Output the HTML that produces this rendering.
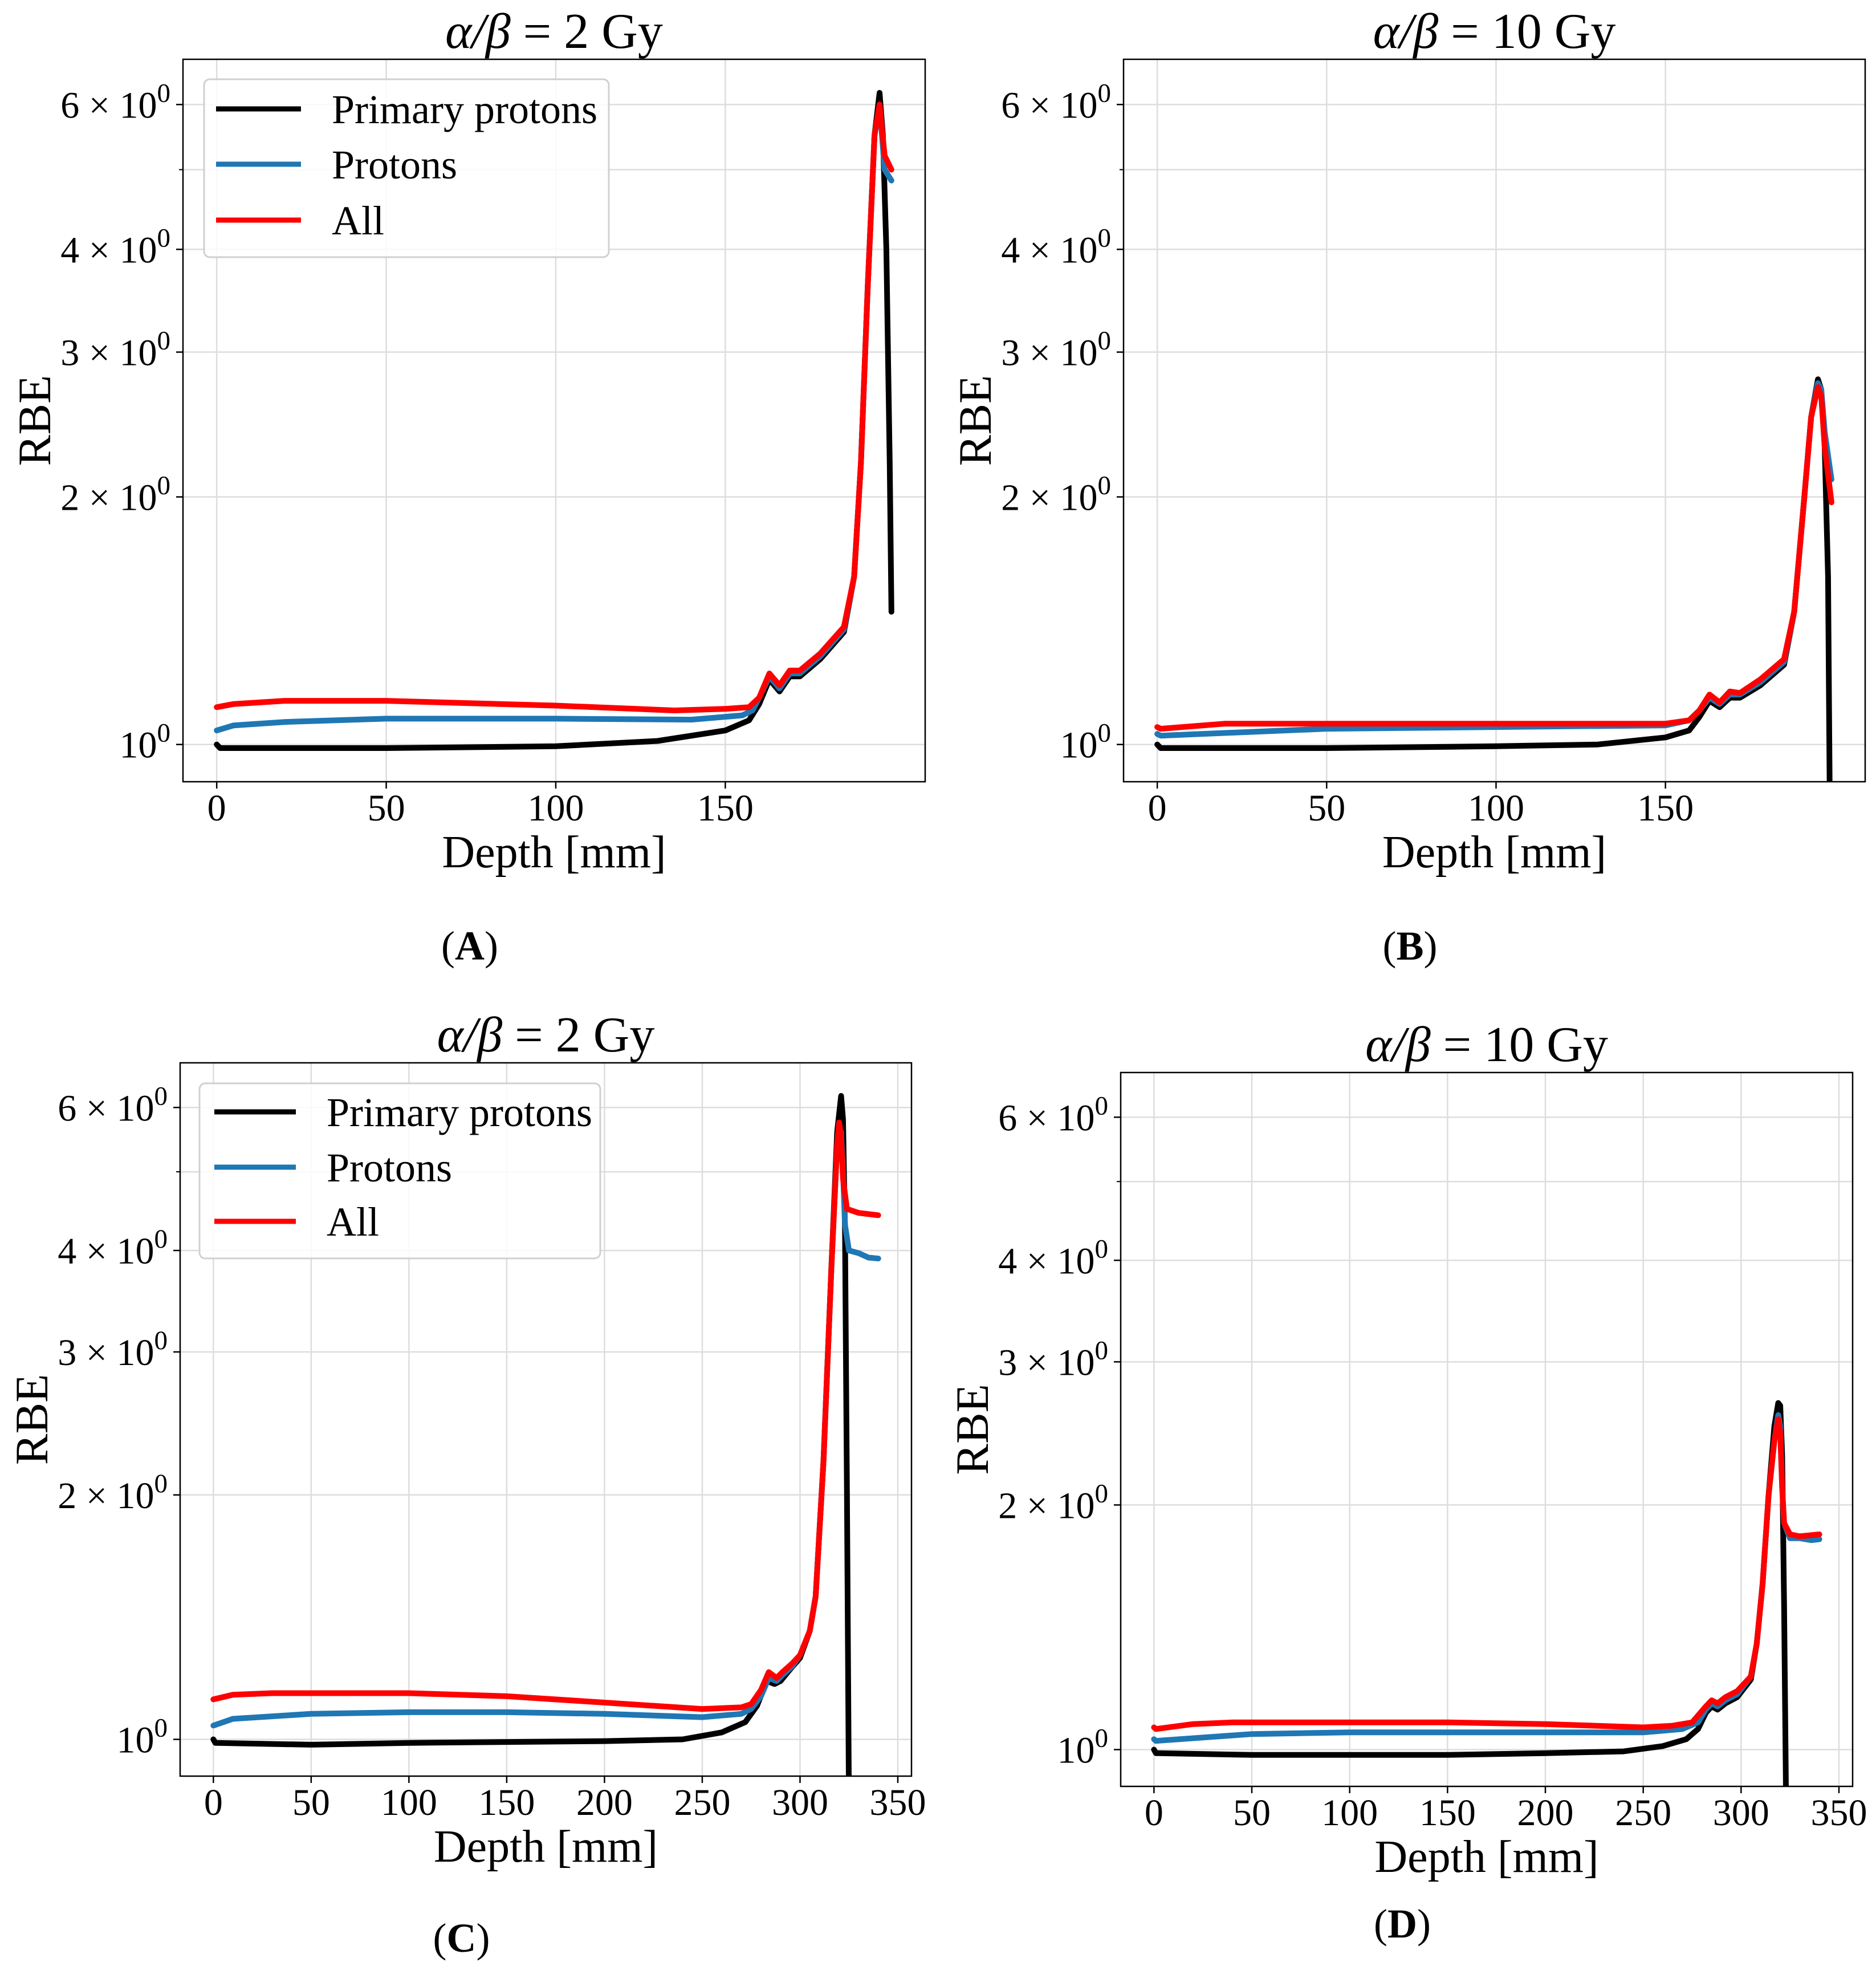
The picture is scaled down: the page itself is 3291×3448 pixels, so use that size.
<!DOCTYPE html>
<html><head><meta charset="utf-8">
<style>
html,body{margin:0;padding:0;background:#fff;}
svg{display:block;}
text{font-family:"Liberation Serif","DejaVu Serif",serif;fill:#000;}
</style></head>
<body>
<svg id="fig" width="3291" height="3448" viewBox="0 0 3291 3448" xmlns="http://www.w3.org/2000/svg"></svg>
<script>
// ---------- Panel A (alpha/beta = 2 Gy, 0-199 mm) ----------
const aPrimaryX = [0,1,50,100,130,150,157,160,163,166,169,172,178,185,188,190,192,194,195.5,196.5,197.5,198.5,199];
const aPrimaryY = [1.0,0.99,0.99,0.995,1.01,1.04,1.07,1.12,1.2,1.16,1.21,1.21,1.27,1.37,1.6,2.2,3.6,5.5,6.2,5.5,4.0,2.2,1.45];
const aProtonsX = [0,5,20,50,100,140,155,158,160,163,166,169,172,178,185,188,190,192,194,195.5,197,199];
const aProtonsY = [1.04,1.055,1.065,1.075,1.075,1.072,1.085,1.10,1.14,1.21,1.17,1.22,1.22,1.28,1.38,1.6,2.2,3.6,5.5,6.0,5.0,4.85];
const aAllX = [0,5,20,50,100,135,150,157,160,163,166,169,172,178,185,188,190,192,194,195.5,197,199];
const aAllY = [1.11,1.12,1.13,1.13,1.115,1.1,1.105,1.11,1.14,1.22,1.18,1.23,1.23,1.29,1.39,1.6,2.2,3.6,5.5,6.0,5.2,5.0];
// ---------- Panel B (alpha/beta = 10 Gy, 0-199 mm) ----------
const bPrimaryX = [0,1,50,100,130,150,157,160,163,166,169,172,178,185,188,191,193,195,196,197,198,198.5];
const bPrimaryY = [1.0,0.99,0.99,0.995,1.0,1.02,1.04,1.08,1.13,1.11,1.14,1.14,1.18,1.25,1.45,2.0,2.5,2.78,2.7,2.3,1.6,0.85];
const bProtonsX = [0,1,50,100,150,157,160,163,166,169,172,178,185,188,191,193,195,196,197,199];
const bProtonsY = [1.03,1.025,1.045,1.05,1.055,1.07,1.1,1.14,1.12,1.15,1.15,1.19,1.26,1.45,2.0,2.5,2.75,2.7,2.4,2.1];
const bAllX = [0,1,20,100,150,157,160,163,166,169,172,178,185,188,191,193,195,196,197,199];
const bAllY = [1.05,1.045,1.06,1.06,1.06,1.07,1.1,1.15,1.125,1.16,1.155,1.2,1.27,1.45,2.0,2.5,2.72,2.65,2.3,1.97];
// ---------- Panel C (alpha/beta = 2 Gy, 0-340 mm) ----------
const cPrimaryX = [0,1,50,100,200,240,260,272,278,283,287,290,295,300,305,308,312,316,319,321,322,323,324,325];
const cPrimaryY = [1.0,0.99,0.985,0.99,0.995,1.0,1.02,1.05,1.1,1.18,1.17,1.18,1.22,1.26,1.36,1.5,2.2,3.8,5.6,6.2,5.8,4.2,2.0,0.85];
const cProtonsX = [0,10,50,100,150,200,250,270,275,280,284,288,291,296,300,305,308,312,316,319,321,322,323,325,330,335,340];
const cProtonsY = [1.04,1.06,1.075,1.08,1.08,1.075,1.065,1.075,1.09,1.13,1.19,1.18,1.2,1.23,1.27,1.36,1.5,2.2,3.8,5.4,5.6,5.0,4.3,4.0,3.97,3.92,3.91];
const cAllX = [0,10,30,100,150,200,250,270,275,280,284,288,291,296,300,305,308,312,316,319,320,321,322,324,330,340];
const cAllY = [1.12,1.135,1.14,1.14,1.13,1.11,1.09,1.095,1.105,1.15,1.21,1.19,1.21,1.24,1.27,1.36,1.5,2.2,3.8,5.4,5.75,5.5,4.9,4.5,4.45,4.42];
// ---------- Panel D (alpha/beta = 10 Gy, 0-340 mm) ----------
const dPrimaryX = [0,1,50,100,150,200,240,260,272,278,282,285,288,292,298,305,308,311,314,317,319,320,321,322,323];
const dPrimaryY = [1.0,0.99,0.985,0.985,0.985,0.99,0.995,1.01,1.03,1.06,1.11,1.13,1.12,1.14,1.16,1.22,1.35,1.6,2.05,2.5,2.67,2.65,2.3,1.5,0.85];
const dProtonsX = [0,1,50,100,150,200,250,270,278,282,285,288,292,298,305,308,311,314,317,319,320,321,322,325,330,336,340];
const dProtonsY = [1.03,1.025,1.045,1.05,1.05,1.05,1.05,1.06,1.08,1.12,1.14,1.13,1.15,1.17,1.23,1.35,1.6,2.05,2.4,2.58,2.5,2.1,1.9,1.82,1.82,1.81,1.815];
const dAllX = [0,1,20,40,150,200,250,265,275,282,285,288,292,298,305,308,311,314,317,319,320,321,322,325,330,340];
const dAllY = [1.065,1.06,1.075,1.08,1.08,1.075,1.065,1.07,1.08,1.13,1.15,1.14,1.16,1.18,1.23,1.35,1.6,2.05,2.4,2.55,2.45,2.1,1.9,1.84,1.83,1.84];

const yTickVals = [1,2,3,4,6];
const yTickMant = ["","2","3","4","6"];
const yGridVals = [1,2,3,4,5,6];
const xTicksShort = [0,50,100,150];
const xTicksLong = [0,50,100,150,200,250,300,350];
const seriesNames = ["Primary protons","Protons","All"];
const seriesColors = ["#000000","#1f77b4","#ff0000"];

const NS = "http://www.w3.org/2000/svg";
const svg = document.getElementById("fig");
function mk(tag, attrs, parent){
  const e = document.createElementNS(NS, tag);
  for (const k in attrs) e.setAttribute(k, attrs[k]);
  (parent||svg).appendChild(e);
  return e;
}

const panels = [
  {id:"a", box:[321,104,1623,1371], xlim:[-9.95,208.95], xticks:xTicksShort, title:"2", label:"A", labelY:1683,
   series:[[aPrimaryX,aPrimaryY],[aProtonsX,aProtonsY],[aAllX,aAllY]], legend:{box:[358,139,1068,451], lx:[379,528], ly:[191,288,386], tx:582}},
  {id:"b", box:[1971,104,3272,1371], xlim:[-9.95,208.95], xticks:xTicksShort, title:"10", label:"B", labelY:1683,
   series:[[bPrimaryX,bPrimaryY],[bProtonsX,bProtonsY],[bAllX,bAllY]]},
  {id:"c", box:[316,1864,1599,3115], xlim:[-17,357], xticks:xTicksLong, title:"2", label:"C", labelY:3423,
   series:[[cPrimaryX,cPrimaryY],[cProtonsX,cProtonsY],[cAllX,cAllY]], legend:{box:[350,1900,1053,2207], lx:[376,519], ly:[1950,2047,2142], tx:573}},
  {id:"d", box:[1966,1881,3250,3133], xlim:[-17,357], xticks:xTicksLong, title:"10", label:"D", labelY:3398,
   series:[[dPrimaryX,dPrimaryY],[dProtonsX,dProtonsY],[dAllX,dAllY]]}
];
const ylim = [0.901, 6.81];

panels.forEach(p => {
  const [L,T,R,B] = p.box;
  const g = mk("g", {});
  
  
  const xs = v => L + (v - p.xlim[0])/(p.xlim[1]-p.xlim[0])*(R-L);
  const ys = v => B - (Math.log10(v) - Math.log10(ylim[0]))/(Math.log10(ylim[1]) - Math.log10(ylim[0]))*(B-T);
  const cid = "clip-" + p.id;
  const cp = mk("clipPath", {id:cid}, g);
  mk("rect", {x:L, y:T, width:R-L, height:B-T}, cp);
  yGridVals.forEach(v => {
    const ln = mk("line", {x1:L, x2:R, y1:ys(v), y2:ys(v), stroke:"#dddddd", "stroke-width":2.5}, g);
    
    
  });
  p.xticks.forEach(v => {
    const ln = mk("line", {x1:xs(v), x2:xs(v), y1:T, y2:B, stroke:"#dddddd", "stroke-width":2.5}, g);
    
    
  });
  p.series.forEach((s, i) => {
    const pts = s[0].map((x, k) => xs(x).toFixed(1) + "," + ys(s[1][k]).toFixed(1)).join(" ");
    const pl = mk("polyline", {points:pts, fill:"none", stroke:seriesColors[i], "stroke-width":10, "stroke-linejoin":"round", "stroke-linecap":"round", "clip-path":"url(#"+cid+")"}, g);
    
    
  });
  const fr = mk("rect", {x:L, y:T, width:R-L, height:B-T, fill:"none", stroke:"#000", "stroke-width":2.5}, g);
  
  
  p.xticks.forEach(v => {
    mk("line", {x1:xs(v), x2:xs(v), y1:B, y2:B+12, stroke:"#000", "stroke-width":2.5}, g);
    const t = mk("text", {x:xs(v), y:B+68, "font-size":66, "text-anchor":"middle"}, g);
    t.textContent = v;
    
    
  });
  yTickVals.forEach((v, i) => {
    const y = ys(v);
    mk("line", {x1:L-12, x2:L, y1:y, y2:y, stroke:"#000", "stroke-width":2.5}, g);
    const t = mk("text", {x:L-22, y:y+23, "font-size":66, "text-anchor":"end"}, g);
    
    
    const pre = yTickMant[i] ? yTickMant[i] + " \u00d7 10" : "10";
    const t1 = mk("tspan", {}, t); t1.textContent = pre;
    const t2 = mk("tspan", {dy:-28, "font-size":47}, t); t2.textContent = "0";
  });
  [5, 0.9].forEach(v => { if (v >= ylim[0]) mk("line", {x1:L-7, x2:L, y1:ys(v), y2:ys(v), stroke:"#000", "stroke-width":2}, g); });
  const tt = mk("text", {x:(L+R)/2, y:T-20, "font-size":88, "text-anchor":"middle"}, g);
  
  
  const ta = mk("tspan", {"font-style":"italic"}, tt); ta.textContent = "\u03b1/\u03b2";
  const tb = mk("tspan", {}, tt); tb.textContent = " = " + p.title + " Gy";
  const xl = mk("text", {x:(L+R)/2, y:B+150, "font-size":80, "text-anchor":"middle"}, g);
  xl.textContent = "Depth [mm]";
  
  
  const yx = L - 233, yy = (T+B)/2;
  const yl = mk("text", {x:yx, y:yy, "font-size":82, "text-anchor":"middle", transform:"rotate(-90 "+yx+" "+yy+")"}, g);
  yl.textContent = "RBE";
  
  
  const pl = mk("text", {x:(L+R)/2 - 148, y:p.labelY, "font-size":72, "text-anchor":"middle"}, g);
  
  
  const p1 = mk("tspan", {}, pl); p1.textContent = "(";
  const p2 = mk("tspan", {"font-weight":"bold"}, pl); p2.textContent = p.label;
  const p3 = mk("tspan", {}, pl); p3.textContent = ")";
  if (p.legend) {
    const lg = p.legend;
    const lgg = mk("g", {}, g);
    
    
    mk("rect", {x:lg.box[0], y:lg.box[1], width:lg.box[2]-lg.box[0], height:lg.box[3]-lg.box[1], rx:10, fill:"#fff", "fill-opacity":0.85, stroke:"#d0d0d0", "stroke-width":3}, lgg);
    seriesNames.forEach((n, i) => {
      const le = mk("g", {}, lgg);
      
      
      mk("line", {x1:lg.lx[0], x2:lg.lx[1], y1:lg.ly[i], y2:lg.ly[i], stroke:seriesColors[i], "stroke-width":9}, le);
      const t = mk("text", {x:lg.tx, y:lg.ly[i]+25, "font-size":72}, le);
      t.textContent = n;
    });
  }
});
</script>
</body></html>
